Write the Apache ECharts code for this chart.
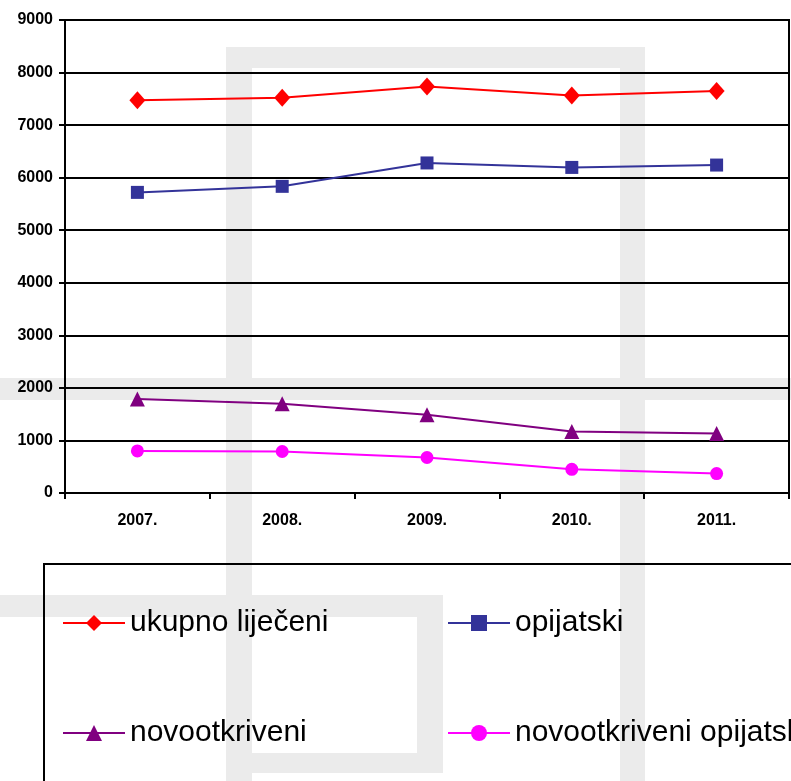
<!DOCTYPE html>
<html>
<head>
<meta charset="utf-8">
<script src="https://cdn.jsdelivr.net/npm/echarts@6/dist/echarts.min.js"></script>
<style>
  html, body { margin: 0; padding: 0; background: #fff; }
  #chart { width: 791px; height: 781px; }
</style>
</head>
<body>
<div id="chart"></div>
<script>
// categories and series values
const years = ['2007.', '2008.', '2009.', '2010.', '2011.'];
const ukupnoLijeceni = [7475, 7520, 7735, 7565, 7650];
const opijatski = [5720, 5835, 6280, 6195, 6240];
const novootkriveni = [1790, 1700, 1490, 1170, 1130];
const novootkriveniOpijatski = [800, 790, 675, 450, 370];

const chart = echarts.init(document.getElementById('chart'));

const wm = '#ebebeb';
function band(x, y, w, h) {
    return {type: 'rect', z: -10, silent: true, shape: {x: x, y: y, width: w, height: h}, style: {fill: wm}};
}

function lineSeries(name, data, color, symbol, size) {
    return {
        name: name, type: 'line', data: data, symbol: symbol, symbolSize: size,
        showAllSymbol: true, animation: false,
        lineStyle: {color: color, width: 2},
        itemStyle: {color: color}
    };
}

const font = 'Liberation Sans, Arial, sans-serif';
const legendText = {fontFamily: font, fontSize: 30, color: '#000'};

chart.setOption({
    animation: false,
    grid: {left: 65, right: 2, top: 20, bottom: 288, show: true, borderColor: '#000', borderWidth: 2, backgroundColor: 'transparent'},
    graphic: [
        // faded watermark logo behind the chart
        band(226, 47, 419, 21),
        band(226, 47, 26, 734),
        band(620, 47, 25, 734),
        band(0, 378, 791, 22),
        band(0, 595, 443, 22),
        band(417, 595, 26, 178),
        band(230, 753, 213, 20),
        // legend frame
        {type: 'rect', z: 5, silent: true, shape: {x: 44, y: 564, width: 800, height: 300},
            style: {fill: 'none', stroke: '#000', lineWidth: 2}}
    ],
    legend: [
        {
            left: 57, top: 603, orient: 'vertical', itemGap: 80,
            itemWidth: 62, itemHeight: 20, textStyle: legendText,
            data: ['ukupno liječeni', 'novootkriveni']
        },
        {
            left: 442, top: 603, orient: 'vertical', itemGap: 80,
            itemWidth: 62, itemHeight: 20, textStyle: legendText,
            data: ['opijatski', 'novootkriveni opijatski']
        }
    ],
    xAxis: {
        type: 'category', data: years, boundaryGap: true,
        axisLine: {lineStyle: {color: '#000', width: 2}},
        axisTick: {show: true, length: 6, lineStyle: {color: '#000', width: 2}},
        axisLabel: {color: '#000', fontWeight: 'bold', fontSize: 16, margin: 20, fontFamily: font}
    },
    yAxis: {
        type: 'value', min: 0, max: 9000, interval: 1000,
        axisLine: {show: true, lineStyle: {color: '#000', width: 2}},
        axisTick: {show: true, length: 6, lineStyle: {color: '#000', width: 2}},
        splitLine: {show: true, lineStyle: {color: '#000', width: 2}},
        axisLabel: {color: '#000', fontWeight: 'bold', fontSize: 16, margin: 12, fontFamily: font,
            formatter: function (v) { return String(v); }}
    },
    series: [
        lineSeries('ukupno liječeni', ukupnoLijeceni, '#ff0000', 'diamond', [16, 18]),
        lineSeries('opijatski', opijatski, '#333399', 'rect', 13),
        lineSeries('novootkriveni', novootkriveni, '#800080', 'triangle', 15),
        lineSeries('novootkriveni opijatski', novootkriveniOpijatski, '#ff00ff', 'circle', 13)
    ]
});
</script>
</body>
</html>
